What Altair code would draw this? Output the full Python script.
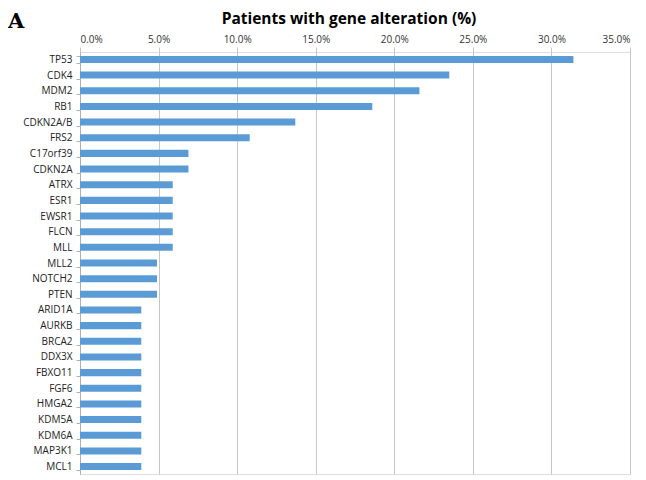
import altair as alt
import pandas as pd

genes = ["TP53", "CDK4", "MDM2", "RB1", "CDKN2A/B", "FRS2", "C17orf39", "CDKN2A",
         "ATRX", "ESR1", "EWSR1", "FLCN", "MLL", "MLL2", "NOTCH2", "PTEN",
         "ARID1A", "AURKB", "BRCA2", "DDX3X", "FBXO11", "FGF6", "HMGA2", "KDM5A",
         "KDM6A", "MAP3K1", "MCL1"]
percent = [31.4, 23.5, 21.6, 18.6, 13.7, 10.8, 6.9, 6.9,
           5.9, 5.9, 5.9, 5.9, 5.9, 4.9, 4.9, 4.9,
           3.9, 3.9, 3.9, 3.9, 3.9, 3.9, 3.9, 3.9,
           3.9, 3.9, 3.9]
tick_values = [0, 5, 10, 15, 20, 25, 30, 35]
title_text = "Patients with gene alteration (%)"
panel_letter = "A"

df = pd.DataFrame({"gene": genes, "pct": percent})

font = "Open Sans"

bars = alt.Chart(df).mark_bar(color="#5B9BD5").encode(
    x=alt.X("pct:Q",
            scale=alt.Scale(domain=[0, 35], nice=False),
            axis=alt.Axis(orient="top", values=tick_values,
                          labelExpr="format(datum.value, '.1f') + '%'",
                          title=None, domain=False, grid=True,
                          gridColor="#c6c6c6", tickColor="#c6c6c6", tickSize=5,
                          labelFont=font, labelFontSize=10, labelColor="#333333",
                          labelPadding=3)),
    y=alt.Y("gene:N", sort=genes,
            scale=alt.Scale(paddingInner=0.55, paddingOuter=0.25),
            axis=alt.Axis(title=None, tickBand="extent", domainColor="#b0b0b0",
                          tickColor="#b0b0b0", tickSize=4,
                          labelFont=font, labelFontSize=10, labelColor="#222222",
                          labelPadding=4))
)

letter = alt.Chart(pd.DataFrame({"t": [panel_letter]})).mark_text(
    font="DejaVu Serif", fontSize=21, fontWeight="bold", align="left",
    baseline="alphabetic", color="#000000"
).encode(text="t:N", x=alt.value(-72), y=alt.value(-24))

title = alt.Chart(pd.DataFrame({"t": [title_text]})).mark_text(
    font=font, fontSize=15.5, fontWeight="bold", align="center",
    baseline="alphabetic", color="#000000"
).encode(text="t:N", x=alt.value(269), y=alt.value(-28))

chart = alt.layer(bars, letter, title).properties(
    width=550, height=422,
    autosize=alt.AutoSizeParams(type="none"),
    padding={"left": 72, "top": 44, "right": 8, "bottom": 6},
).configure_view(stroke=None).configure(background="white")

chart.save("out.html", embed_options={"renderer": "svg", "actions": False})
